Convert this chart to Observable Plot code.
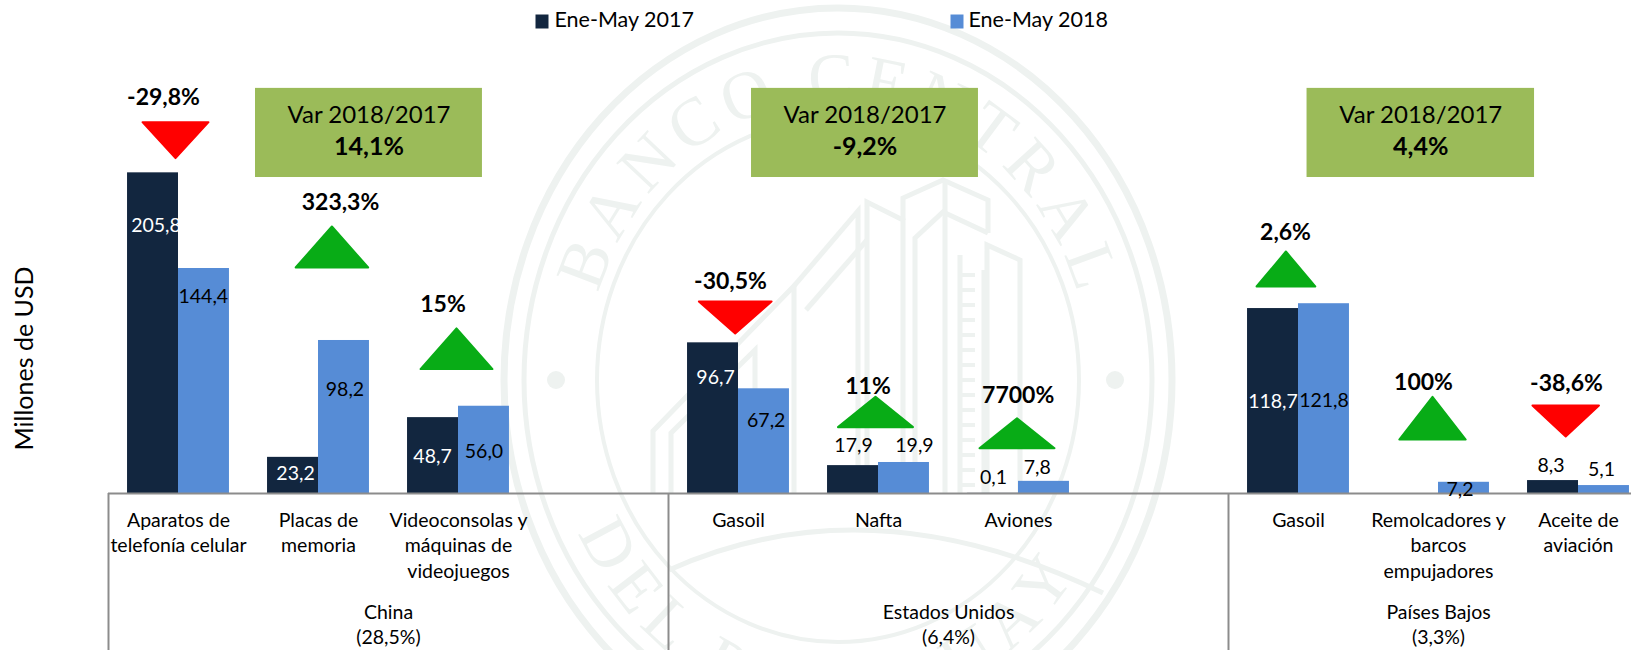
<!DOCTYPE html>
<html><head><meta charset="utf-8">
<script src="https://cdn.jsdelivr.net/npm/d3@7"></script>
<script src="https://cdn.jsdelivr.net/npm/@observablehq/plot@0.6"></script>
<style>html,body{margin:0;padding:0;background:#fff;overflow:hidden}svg{display:block}</style>
</head><body><div id="chart"></div>
<script>
// ---- values ----
const series = ["Ene-May 2017", "Ene-May 2018"];
const categories = ["Aparatos de\ntelefonía celular", "Placas de\nmemoria", "Videoconsolas y\nmáquinas de\nvideojuegos",
  "Gasoil", "Nafta", "Aviones", "Gasoil", "Remolcadores y\nbarcos\nempujadores", "Aceite de\naviación"];
const values2017 = [205.8, 23.2, 48.7, 96.7, 17.9, 0.1, 118.7, null, 8.3];
const values2018 = [144.4, 98.2, 56.0, 67.2, 19.9, 7.8, 121.8, 7.2, 5.1];
const changes = ["-29,8%", "323,3%", "15%", "-30,5%", "11%", "7700%", "2,6%", "100%", "-38,6%"];
const groups = ["China\n(28,5%)", "Estados Unidos\n(6,4%)", "Países Bajos\n(3,3%)"];
const groupVar = ["14,1%", "-9,2%", "4,4%"];

// ---- layout (slot units on x, nudges in px) ----
const slots = [0.5, 1.5, 2.5, 4.5, 5.5, 6.5, 8.5, 9.5, 10.5];
const groupEdges = [0, 4, 8];
const groupCentres = [2, 6, 9.5];
const boxSpans = [[1.05, 2.671], [4.593, 6.214], [8.561, 10.186]];
const barShift = 0.182;
const nudge17 = [[3,52.6],[2.5,16.4],[-.5,39.6],[2.5,35],[.5,-20.1],[.5,-16],[0,93],null,[-2.1,-15.1]];
const nudge18 = [[-.7,28.7],[1,49],[0,45.2],[2.2,32.4],[10.5,-17],[-6.8,-13.5],[0,96.8],[-3.9,7.2],[-2.5,-15.7]];
const inside17 = [true,true,true,true,false,false,true,false,false];
const triangle = [[-3,-32.7,68,38],[13.4,-93.5,74.5,43],[-2,-57.5,74,42.7],[-3.3,-25.3,74.7,34],[-3,-50.5,77,32.3],
  [-1.5,-48.1,77,32],[-12.6,-34.7,60.7,37],[-6,-64.1,68.4,44.7],[-12.8,-59.6,68.5,33]];
const changeNudge = [[-15,-75.4],[22,-138.3],[-15.5,-101.8],[-8,-61.6],[-10.5,-76],[-.3,-85.5],[-13,-70.9],[-15,-100.1],[-12,-97.4]];

const fmt = v => v.toFixed(1).replace(".", ",");
const bars = [];
const labels = [];
categories.forEach((c, i) => {
  [[values2017, nudge17, -1, 0], [values2018, nudge18, 1, 1]].forEach(([vals, nud, side, s]) => {
    const v = vals[i];
    if (v == null) return;
    bars.push({series: series[s], x1: slots[i] + (side < 0 ? -2 * barShift : 0), x2: slots[i] + (side < 0 ? 0 : 2 * barShift), v});
    labels.push({x: slots[i] + side * barShift, y: v, dx: nud[i][0], dy: nud[i][1], text: fmt(v),
      fill: s === 0 && inside17[i] ? "#ffffff" : "#000000"});
  });
});
const tops = categories.map((c, i) => Math.max(values2017[i] ?? 0, values2018[i] ?? 0));
const triSymbol = (w, h, up) => ({draw(ctx) {
  const W = w / 2 - 1, H = h / 2 - 1, s = up ? 1 : -1;
  ctx.moveTo(0, -s * H); ctx.lineTo(W, s * H); ctx.lineTo(-W, s * H); ctx.closePath();
}});
const square = {draw(ctx) { ctx.rect(-6.5, -7, 13, 14); }};

// decorative watermark behind the chart
function watermark() {
  const ink = "#eef2f0";
  const g = d3.create("svg:g").attr("fill", "none").attr("stroke", ink);
  const cx = 838, cy = 380;
  [[334, 372, 7], [314, 347, 5], [241, 262, 4]].forEach(([rx, ry, w]) =>
    g.append("ellipse").attr("cx", cx).attr("cy", cy).attr("rx", rx).attr("ry", ry).attr("stroke-width", w));
  const defs = g.append("defs");
  defs.append("path").attr("id", "wmTop").attr("d", `M${cx - 252},${cy} A252,280 0 0 1 ${cx + 252},${cy}`);
  defs.append("path").attr("id", "wmBot").attr("d", `M${cx - 292},${cy} A292,335 0 0 0 ${cx + 292},${cy}`);
  [["wmTop", "BANCO CENTRAL", 660, "50%"], ["wmBot", "DEL PARAGUAY", 622, "47.5%"]].forEach(([id, t, len, off]) => {
    g.append("text").attr("fill", ink).attr("stroke", "none").attr("font-family", "Liberation Serif").attr("font-size", 68)
      .append("textPath").attr("href", "#" + id).attr("startOffset", off).attr("text-anchor", "middle")
      .attr("textLength", len).attr("lengthAdjust", "spacing").text(t);
  });
  [[556, 380], [1115, 380]].forEach(([x, y]) => g.append("circle").attr("cx", x).attr("cy", y).attr("r", 9).attr("fill", ink).attr("stroke", "none"));
  const lines = [
    [[653,493],[653,431],[794,286],[794,493]], [[671,493],[671,433],[755,350],[755,493]],
    [[794,286],[858,211],[858,493]], [[806,310],[867,240]],
    [[867,493],[867,202],[903,220],[903,493]], [[915,493],[915,238],[943,212],[988,233]],
    [[903,220],[903,198],[943,180],[988,200],[988,233]],
    [[945,180],[945,493]],
    [[987,493],[987,245],[1020,260],[1020,493]], [[960,255],[960,493]], [[984,270],[984,493]]
  ];
  const line = d3.line();
  lines.forEach(l => g.append("path").attr("d", line(l)).attr("stroke-width", 5));
  for (let y = 275; y < 490; y += 15) g.append("path").attr("d", `M960,${y}H975`).attr("stroke-width", 4);
  g.append("path").attr("d", "M669,570Q870,480 1103,593").attr("stroke-width", 5);
  return g.node();
}

const common = {fontSize: 19.5, fill: "#000"};
const chart = Plot.plot({
  width: 1631, height: 650, margin: 0,
  style: {fontFamily: "Lato, sans-serif", background: "transparent"},
  x: {type: "linear", domain: [0, 11], range: [108, 1648], axis: null},
  y: {domain: [0, 316.4], range: [493, 0], axis: null},
  color: {domain: series, range: ["#12263f", "#568cd6"]},
  marks: [
    watermark,
    // legend
    ...series.map((s, i) => Plot.dot([s], {frameAnchor: "top-left", dx: [541.5, 956.5][i], dy: 21, symbol: square, fill: d => d})),
    ...series.map((s, i) => Plot.text([s], {frameAnchor: "top-left", dx: [554, 968][i], dy: 11, fontSize: 21.5, fill: "#000"})),
    // y title
    Plot.text(["Millones de USD"], {frameAnchor: "top-left", dx: 24, dy: 358, rotate: -90, textAnchor: "middle", lineAnchor: "middle", fontSize: 25, fill: "#000"}),
    // variation boxes
    Plot.rect(boxSpans, {x1: d => d[0], x2: d => d[1], y1: () => 202.8, y2: () => 260, fill: "#9bbb59"}),
    Plot.text(boxSpans, {x: d => (d[0] + d[1]) / 2, y: () => 260, dy: 27, text: () => "Var 2018/2017", fontSize: 24, fill: "#000"}),
    Plot.text(boxSpans, {x: d => (d[0] + d[1]) / 2, y: () => 260, dy: 59, text: (d, i) => groupVar[i], fontSize: 25, fontWeight: "bold", fill: "#000"}),
    // bars
    Plot.rect(bars, {x1: "x1", x2: "x2", y1: () => 0, y2: "v", fill: "series"}),
    // axis frame
    Plot.ruleY([0], {x1: () => 0, x2: () => 11, stroke: "#8c8c8c", strokeWidth: 2}),
    Plot.ruleX(groupEdges, {y1: () => 0, y2: () => -110, stroke: "#8c8c8c", strokeWidth: 2}),
    // value labels
    ...labels.map(l => Plot.text([l], {x: "x", y: "y", dx: l.dx, dy: l.dy, text: "text", fill: l.fill, fontSize: 19.5})),
    // change markers
    ...changes.map((c, i) => {
      const [dx, dy, w, h] = triangle[i], up = c[0] !== "-";
      const col = up ? "#08ac16" : "#ff0000";
      return Plot.dot([i], {x: j => slots[j], y: j => tops[j], dx, dy, symbol: triSymbol(w, h, up), fill: col, stroke: col, strokeWidth: 2, strokeLinejoin: "round"});
    }),
    ...changes.map((c, i) => Plot.text([c], {x: () => slots[i], y: () => tops[i], dx: changeNudge[i][0], dy: changeNudge[i][1], fontSize: 23, fontWeight: "bold", fill: "#000"})),
    // category + group labels
    Plot.text(categories, {x: (d, i) => slots[i], y: () => 0, dy: 15, text: d => d, lineAnchor: "top", lineHeight: 25.5 / 19.5, ...common}),
    Plot.text(groups, {x: (d, i) => groupCentres[i], y: () => 0, dy: 107, text: d => d, lineAnchor: "top", lineHeight: 25.5 / 19.5, ...common})
  ]
});
document.getElementById("chart").append(chart);
</script>
</body></html>
